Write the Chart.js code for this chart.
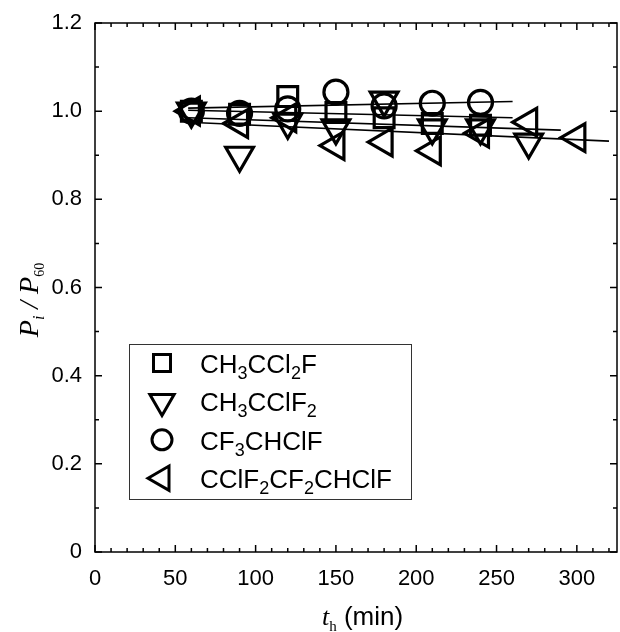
<!DOCTYPE html>
<html>
<head>
<meta charset="utf-8">
<script src="https://cdn.jsdelivr.net/npm/chart.js@4.4.0/dist/chart.umd.min.js"></script>
<style>
html,body{margin:0;padding:0;background:#fff}
</style>
</head>
<body>
<canvas id="chart" width="620" height="632"></canvas>
<script>
// ===== data =====
const timesSquare = [60, 90, 120, 150, 180, 210, 240];
const ratioSquare = [1.0, 0.993, 1.033, 0.997, 0.985, 0.972, 0.968];
const timesDown = [60, 90, 120, 150, 180, 210, 240, 270];
const ratioDown = [1.0, 0.90, 0.975, 0.962, 1.025, 0.962, 0.962, 0.93];
const timesCircle = [60, 90, 120, 150, 180, 210, 240];
const ratioCircle = [1.0, 0.995, 1.005, 1.043, 1.012, 1.018, 1.02];
const timesLeft = [60, 90, 120, 150, 180, 210, 240, 270, 300];
const ratioLeft = [1.0, 0.972, 0.985, 0.922, 0.93, 0.91, 0.95, 0.975, 0.94];

// fitted lines (end points)
const fitTimesSquare = [58, 260], fitSquare = [1.002, 0.985];
const fitTimesDown = [58, 290], fitDown = [0.985, 0.957];
const fitTimesCircle = [58, 260], fitCircle = [1.007, 1.022];
const fitTimesLeft = [58, 320], fitLeft = [0.975, 0.932];

// 325 is the axis end, it gets no label
const xTicks = [0, 50, 100, 150, 200, 250, 300, 325];
const yTicks = [0, 0.2, 0.4, 0.6, 0.8, 1.0, 1.2];

const pts = (xs, ys) => xs.map((x, i) => ({x, y: ys[i]}));

// ===== helpers =====
const SANS = '"Liberation Sans", Arial, sans-serif';
const SERIF = '"Liberation Serif", "Times New Roman", serif';

function richWidth(ctx, parts){
  let w = 0;
  parts.forEach(p => { ctx.font = p.f; w += ctx.measureText(p.t).width; });
  return w;
}
function drawRich(ctx, parts, x, y){
  let cx = x;
  parts.forEach(p => {
    ctx.font = p.f;
    ctx.fillText(p.t, cx, y + (p.dy || 0));
    cx += ctx.measureText(p.t).width;
  });
}
function sub(t){ return {t, f: '18px ' + SANS, dy: 6}; }
function txt(t){ return {t, f: '26px ' + SANS}; }

const legendRows = [
  {style:'rect',     rot:0,   parts:[txt('CH'), sub('3'), txt('CCl'), sub('2'), txt('F')]},
  {style:'triangle', rot:180, parts:[txt('CH'), sub('3'), txt('CClF'), sub('2')]},
  {style:'circle',   rot:0,   parts:[txt('CF'), sub('3'), txt('CHClF')]},
  {style:'triangle', rot:270, parts:[txt('CClF'), sub('2'), txt('CF'), sub('2'), txt('CHClF')]}
];

function marker(ctx, style, rot, x, y, r){
  ctx.beginPath();
  if(style === 'rect'){
    ctx.rect(x - r, y - r, 2*r, 2*r);
  } else if(style === 'circle'){
    ctx.arc(x, y, r, 0, Math.PI*2);
  } else {
    let a = rot * Math.PI / 180;
    for(let k=0;k<3;k++){
      const px = x + Math.sin(a) * r, py = y - Math.cos(a) * r;
      k ? ctx.lineTo(px, py) : ctx.moveTo(px, py);
      a += Math.PI * 2 / 3;
    }
    ctx.closePath();
  }
  ctx.stroke();
}

// frame, inward ticks, legend and axis titles
const decor = {
  id: 'decor',
  afterDraw(chart){
    const {ctx, chartArea:{left,right,top,bottom}, scales:{x,y}} = chart;
    ctx.save();
    ctx.strokeStyle = '#000';
    ctx.fillStyle = '#000';
    ctx.lineWidth = 1.5;
    ctx.strokeRect(left, top, right-left, bottom-top);
    ctx.beginPath();
    for(let v=0; v<x.max; v+=10){
      const px = x.getPixelForValue(v);
      const len = v % 50 === 0 ? 7 : 4;
      ctx.moveTo(px, bottom); ctx.lineTo(px, bottom - len);
      ctx.moveTo(px, top); ctx.lineTo(px, top + len);
    }
    for(let i=0; i<=12; i++){
      const py = y.getPixelForValue(i/10);
      const len = i % 2 === 0 ? 7 : 4;
      ctx.moveTo(left, py); ctx.lineTo(left + len, py);
      ctx.moveTo(right, py); ctx.lineTo(right - len, py);
    }
    ctx.stroke();

    // legend
    ctx.lineWidth = 1;
    ctx.strokeStyle = '#333';
    ctx.strokeRect(129.5, 344.5, 282, 155);
    ctx.strokeStyle = '#000';
    ctx.lineWidth = 3;
    ctx.textBaseline = 'alphabetic';
    legendRows.forEach((row, i) => {
      const base = 373 + i * 38.4;
      const cy = base - 10;
      const r = row.style === 'rect' ? 8.5 : row.style === 'circle' ? 10 : 14;
      marker(ctx, row.style, row.rot, 162, cy, r);
      drawRich(ctx, row.parts, 200, base);
    });

    // x title
    const xParts = [
      {t:'t', f:'italic 26px ' + SERIF},
      {t:'h', f:'15px ' + SERIF, dy:6},
      {t:' (min)', f:'26px ' + SANS}
    ];
    drawRich(ctx, xParts, 322, 625);

    // y title
    const yParts = [
      {t:'P', f:'italic 28px ' + SERIF},
      {t:'i', f:'italic 16px ' + SERIF, dy:6},
      {t:' / ', f:'italic 28px ' + SERIF},
      {t:'P', f:'italic 28px ' + SERIF},
      {t:'60', f:'14px ' + SERIF, dy:6}
    ];
    const yw = richWidth(ctx, yParts);
    ctx.translate(38, 300);
    ctx.rotate(-Math.PI/2);
    drawRich(ctx, yParts, -yw/2, 0);
    ctx.restore();
  }
};

const markerSet = (label, data, style, rot, r) => ({
  type: 'scatter', label, data,
  pointStyle: style, rotation: rot, pointRadius: r, pointHoverRadius: r,
  borderColor: '#000', backgroundColor: 'transparent', pointBorderWidth: 3.2,
  showLine: false
});
const fitSet = (data) => ({
  type: 'line', data, borderColor: '#000', borderWidth: 1.6,
  pointRadius: 0, fill: false, tension: 0
});

new Chart(document.getElementById('chart'), {
  type: 'scatter',
  data: {
    datasets: [
      fitSet(pts(fitTimesSquare, fitSquare)),
      fitSet(pts(fitTimesDown, fitDown)),
      fitSet(pts(fitTimesCircle, fitCircle)),
      fitSet(pts(fitTimesLeft, fitLeft)),
      markerSet('CH3CCl2F', pts(timesSquare, ratioSquare), 'rect', 0, 14),
      markerSet('CH3CClF2', pts(timesDown, ratioDown), 'triangle', 180, 16),
      markerSet('CF3CHClF', pts(timesCircle, ratioCircle), 'circle', 0, 12),
      markerSet('CClF2CF2CHClF', pts(timesLeft, ratioLeft), 'triangle', 270, 16)
    ]
  },
  options: {
    responsive: false,
    animation: false,
    events: [],
    layout: { autoPadding: false, padding: { top: 23, right: 3, left: 0, bottom: 0 } },
    plugins: { legend: { display: false }, tooltip: { enabled: false } },
    scales: {
      x: {
        type: 'linear', min: 0, max: 325,
        grid: { display: false, drawTicks: false },
        border: { display: false },
        afterFit(s){ s.height = 80; s.paddingLeft = 0; s.paddingRight = 0; },
        afterBuildTicks(s){ s.ticks = xTicks.map(v => ({value: v})); },
        ticks: {
          padding: 14, color: '#000', font: { family: SANS, size: 22 },
          callback: v => v % 50 === 0 ? String(v) : ''
        }
      },
      y: {
        type: 'linear', min: 0, max: 1.2,
        grid: { display: false, drawTicks: false },
        border: { display: false },
        afterFit(s){ s.width = 95; s.paddingTop = 0; s.paddingBottom = 0; },
        afterBuildTicks(s){ s.ticks = yTicks.map(v => ({value: v})); },
        ticks: {
          padding: 13, color: '#000', font: { family: SANS, size: 22 },
          callback: v => v === 0 ? '0' : v.toFixed(1)
        }
      }
    }
  },
  plugins: [decor]
});
</script>
</body>
</html>
